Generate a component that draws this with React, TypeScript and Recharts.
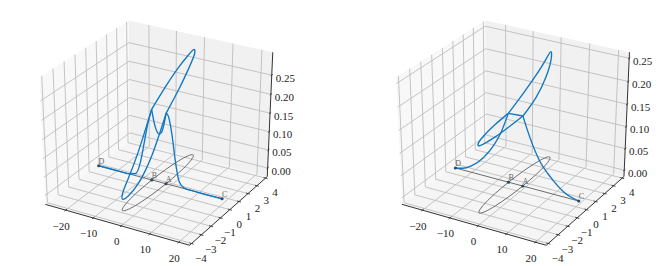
import { ScatterChart, Scatter, XAxis, YAxis } from 'recharts'

const xTicks = [-20, -10, 0, 10, 20]
const yTicks = [-4, -3, -2, -1, 0, 1, 2, 3, 4]
const zTicksLeft = [0, 0.05, 0.1, 0.15, 0.2, 0.25]
const zTicksRight = [0, 0.05, 0.1, 0.15, 0.2, 0.25]
const xLim = [-27.5, 23.7]
const yLim = [-4.2, 4.2]
const zLimLeft = [-0.024, 0.309]
const zLimRight = [-0.0148, 0.2628]

// contour on the ground plane
const lineX = [-23.8, 20.9]
const loopX = [-4.15, -3.95, -3.39, -2.55, -1.6, -0.6, 0.24, 0.8, 1.0, 0.8, 0.24, -0.6, -1.6, -2.55, -3.39, -3.95, -4.15]
const loopY = [0, 1.38, 2.55, 3.33, 3.6, 3.33, 2.55, 1.38, 0, -1.38, -2.55, -3.33, -3.6, -3.33, -2.55, -1.38, 0]
const marks = [
  { name: 'D', x: -23.8 },
  { name: 'B', x: -4.15 },
  { name: 'A', x: 1.0 },
  { name: 'C', x: 20.9 },
]

// heights over the contour, left panel
const loopZLeft = [0.19, 0.225, 0.255, 0.275, 0.285, 0.278, 0.26, 0.228, 0.19, 0.105, 0.055, 0.036, 0.031, 0.04, 0.06, 0.107, 0.19]
const riseXLeft = [-23.8, -16, -12, -10, -8.3, -7, -5.7, -4.15]
const riseZLeft = [0, 0, 0.001, 0.006, 0.04, 0.09, 0.144, 0.19]
const dipXLeft = [-4.15, -3.2, -2.3, -1.5, -0.7, 0.1, 1.0]
const dipZLeft = [0.19, 0.155, 0.135, 0.13, 0.135, 0.155, 0.19]
const fallXLeft = [1.0, 1.8, 2.5, 3.4, 4, 4.9, 5.7, 7.4, 10, 20.9]
const fallZLeft = [0.19, 0.182, 0.16, 0.118, 0.084, 0.041, 0.016, 0.002, 0, 0]

// heights over the contour, right panel
const loopZRight = [0.155, 0.175, 0.198, 0.222, 0.238, 0.225, 0.2, 0.175, 0.157, 0.155, 0.152, 0.15, 0.148, 0.149, 0.151, 0.153, 0.155]
const riseXRight = [-23.8, -21, -18, -13.2, -9.6, -7.1, -4.15]
const riseZRight = [0, 0.004, 0.014, 0.042, 0.074, 0.104, 0.155]
const dipXRight = [-4.15, 1.0]
const dipZRight = [0.155, 0.157]
const fallXRight = [1.0, 2.2, 6.9, 10.9, 15.5, 20.9]
const fallZRight = [0.157, 0.135, 0.068, 0.037, 0.012, 0]

const BLUE = '#1077c3'
const GRID = '#bdbdbd'
const AXIS = '#333333'
const FONT = "'Liberation Serif', serif"

type P3 = [number, number, number]

// matplotlib's default 3d camera (elev 30, azim -60, dist 10)
function project(p: P3, zLim: number[], shift: number) {
  const a = (p[0] - xLim[0]) / (xLim[1] - xLim[0]) - 0.5
  const b = (p[1] - yLim[0]) / (yLim[1] - yLim[0]) - 0.5
  const c = (p[2] - zLim[0]) / (zLim[1] - zLim[0]) - 0.5
  const u = 0.866 * a + 0.5 * b
  const v = -0.25 * a + 0.433 * b + 0.866 * c
  const d = 10 - (0.433 * a - 0.75 * b + 0.5 * c)
  return { px: 158 + shift + (1665 * u) / d, py: 129 - (1450 * v) / d }
}

const Blank = () => <g />

function panel(zLim: number[], zTicks: number[], shift: number, series: any, key: string) {
  const [x0, x1] = xLim
  const [y0, y1] = yLim
  const [z0, z1] = zLim
  const pr = (pts: P3[]) => pts.map((p) => project(p, zLim, shift))
  const out: any[] = []
  let n = 0
  const path = (pts: P3[], line: any, joint = 'linear') =>
    out.push(
      <Scatter
        key={`${key}-${n++}`}
        data={pr(pts)}
        line={line}
        lineJointType={joint as any}
        shape={Blank}
        isAnimationActive={false}
      />,
    )
  const gridLine = { stroke: GRID, strokeWidth: 0.9, fill: 'none' }
  const axisLine = { stroke: AXIS, strokeWidth: 1, fill: 'none' }
  const tickLine = { stroke: AXIS, strokeWidth: 0.9, fill: 'none' }

  // panes
  path([[x0, y0, z0], [x0, y1, z0], [x0, y1, z1], [x0, y0, z1], [x0, y0, z0]], { stroke: 'none', fill: '#f8f8f8' })
  path([[x0, y1, z0], [x1, y1, z0], [x1, y1, z1], [x0, y1, z1], [x0, y1, z0]], { stroke: 'none', fill: '#f1f1f1' })
  path([[x0, y0, z0], [x1, y0, z0], [x1, y1, z0], [x0, y1, z0], [x0, y0, z0]], { stroke: 'none', fill: '#f5f5f5' })

  // grid
  xTicks.forEach((t) => path([[t, y0, z0], [t, y1, z0], [t, y1, z1]], gridLine))
  yTicks.forEach((t) => path([[x1, t, z0], [x0, t, z0], [x0, t, z1]], gridLine))
  zTicks.forEach((t) => path([[x0, y0, t], [x0, y1, t], [x1, y1, t]], gridLine))

  // axes and tick marks
  path([[x0, y0, z0], [x1, y0, z0]], axisLine)
  path([[x1, y0, z0], [x1, y1, z0]], axisLine)
  path([[x1, y1, z0], [x1, y1, z1]], axisLine)
  xTicks.forEach((t) => path([[t, y0 - 0.12, z0], [t, y0 + 0.12, z0]], tickLine))
  yTicks.forEach((t) => path([[x1 - 0.7, t, z0], [x1 + 0.7, t, z0]], tickLine))
  zTicks.forEach((t) => path([[x1, y1 - 0.12, t], [x1, y1 + 0.12, t]], tickLine))

  // tick labels
  const label = (dx: number, dy: number) => (p: any) => (
    <text x={p.cx + dx} y={p.cy + dy} textAnchor="middle" dominantBaseline="central" fontFamily={FONT} fontSize={11} fill="#222">
      {p.payload.text}
    </text>
  )
  const fmt = (t: number) => (t < 0 ? `\u2212${-t}` : `${t}`)
  out.push(
    <Scatter key={`${key}-xl`} data={xTicks.map((t) => ({ ...project([t, y0, z0], zLim, shift), text: fmt(t) }))} shape={label(-4.5, 15.5)} isAnimationActive={false} />,
    <Scatter key={`${key}-yl`} data={yTicks.map((t) => ({ ...project([x1, t, z0], zLim, shift), text: fmt(t) }))} shape={label(9.4, 14)} isAnimationActive={false} />,
    <Scatter key={`${key}-zl`} data={zTicks.map((t) => ({ ...project([x1, y1, t], zLim, shift), text: t.toFixed(2) }))} shape={label(13.5, 2.5)} isAnimationActive={false} />,
  )

  // ground contour
  const grey = { stroke: '#5c5c5c', strokeWidth: 0.9, fill: 'none' }
  path(lineX.map((x) => [x, 0, 0] as P3), grey)
  path(loopX.map((x, i) => [x, loopY[i], 0] as P3), grey, 'natural')

  // raised contour, split at the corners B and A
  const blue = { stroke: BLUE, strokeWidth: 1.35, fill: 'none' }
  const on = (xs: number[], zs: number[]) => xs.map((x, i) => [x, 0, zs[i]] as P3)
  const loop3 = loopX.map((x, i) => [x, loopY[i], series.loopZ[i]] as P3)
  path(on(series.riseX, series.riseZ), blue, 'monotoneX')
  path(on(series.dipX, series.dipZ), blue, 'monotoneX')
  path(on(series.fallX, series.fallZ), blue, 'monotoneX')
  path(loop3.slice(0, 9), blue, 'natural')
  path(loop3.slice(8), blue, 'natural')

  // named points
  const mark = (p: any) => (
    <g>
      <circle cx={p.cx} cy={p.cy} r={1.6} fill="#2f4a60" />
      <text x={p.cx + 2.7} y={p.cy - 4.4} textAnchor="middle" dominantBaseline="central" fontFamily={FONT} fontSize={8} fill="#666">
        {p.payload.name}
      </text>
    </g>
  )
  out.push(
    <Scatter key={`${key}-m`} data={marks.map((m) => ({ ...project([m.x, 0, 0], zLim, shift), name: m.name }))} shape={mark} isAnimationActive={false} />,
  )
  return out
}

export default function App() {
  return (
    <div style={{ position: 'absolute', left: 0, top: 0 }}>
      <ScatterChart width={665} height={266} margin={{ top: 0, right: 0, bottom: 0, left: 0 }}>
        <XAxis dataKey="px" type="number" domain={[0, 665]} hide />
        <YAxis dataKey="py" type="number" domain={[0, 266]} reversed hide />
        {panel(zLimLeft, zTicksLeft, 0, { loopZ: loopZLeft, riseX: riseXLeft, riseZ: riseZLeft, dipX: dipXLeft, dipZ: dipZLeft, fallX: fallXLeft, fallZ: fallZLeft }, 'l')}
        {panel(zLimRight, zTicksRight, 356.7, { loopZ: loopZRight, riseX: riseXRight, riseZ: riseZRight, dipX: dipXRight, dipZ: dipZRight, fallX: fallXRight, fallZ: fallZRight }, 'r')}
      </ScatterChart>
    </div>
  )
}
